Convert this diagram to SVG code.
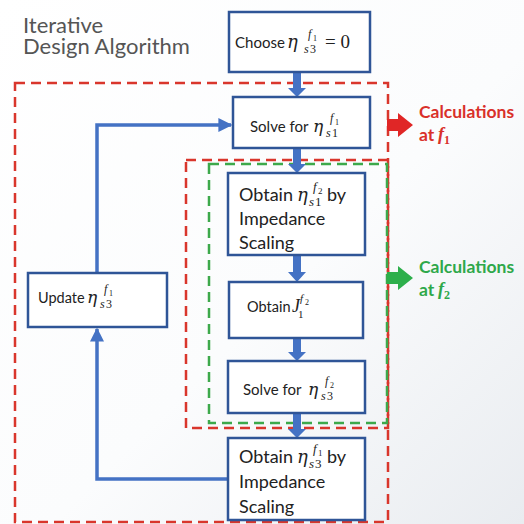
<svg xmlns="http://www.w3.org/2000/svg" width="524" height="524" viewBox="0 0 524 524">
<defs>
<linearGradient id="bg" x1="0" y1="0" x2="1" y2="1">
<stop offset="0" stop-color="#ffffff"/>
<stop offset="0.55" stop-color="#fbfcfd"/>
<stop offset="1" stop-color="#e9ecf0"/>
</linearGradient>
<marker id="ah" viewBox="0 0 10 10" refX="9" refY="5" markerWidth="14" markerHeight="14" markerUnits="userSpaceOnUse" orient="auto">
<path d="M0,0 L10,5 L0,10 z" fill="#4472C4"/>
</marker>
<style>
.box{fill:#fff;stroke:#2F5597;stroke-width:2.5}
.t{font-family:Lato,"Open Sans",sans-serif;fill:#222}
.e{font-family:"DejaVu Serif",serif;font-style:italic}
.m{font-family:"Liberation Serif","DejaVu Serif",serif;font-style:italic}
.n{font-family:"Liberation Serif","DejaVu Serif",serif;font-style:normal}
.red{fill:none;stroke:#D9362C;stroke-width:2.5;stroke-dasharray:10 6}
.grn{fill:none;stroke:#3DA94B;stroke-width:2.5;stroke-dasharray:10 6}
.blk{fill:#4472C4}
.con{fill:none;stroke:#4472C4;stroke-width:3.5}
.cr{font-family:Lato,"Open Sans",sans-serif;font-weight:bold;fill:#D9302A}
.cg{font-family:Lato,"Open Sans",sans-serif;font-weight:bold;fill:#2EA84A}
</style>
</defs>
<rect width="524" height="524" fill="url(#bg)"/>

<g id="title">
<text class="t" font-size="22" style="fill:#555"><tspan x="23" y="33">Iterative</tspan><tspan x="23" y="54">Design Algorithm</tspan></text>
</g>

<g id="regions">
<rect class="red" x="15" y="83" width="373" height="439"/>
<rect class="red" x="186" y="160" width="202" height="268"/>
<rect class="grn" x="209" y="164" width="178" height="259"/>
</g>

<g id="connectors">
<polygon class="blk" points="293,72 301,72 301,88 306,88 297,97 288,88 293,88"/>
<polygon class="blk" points="293,148 301,148 301,164 306,164 297,173 288,164 293,164"/>
<polygon class="blk" points="293,256 301,256 301,272 306,272 297,282 288,272 293,272"/>
<polygon class="blk" points="293,338 301,338 301,352 306,352 297,361 288,352 293,352"/>
<polygon class="blk" points="293,413 301,413 301,429 306,429 297,438 288,429 293,429"/>
<polyline class="con" points="228,479 97,479 97,329" marker-end="url(#ah)"/>
<polyline class="con" points="97,273 97,125 231,125" marker-end="url(#ah)"/>
</g>

<g id="choose">
<rect class="box" x="229" y="12" width="141" height="60"/>
<text class="t" font-size="15"><tspan x="235" y="48">Choose</tspan><tspan class="e" x="287" y="48" font-size="18">η</tspan><tspan class="m" x="308" y="38" font-size="12">f</tspan><tspan class="n" x="313" y="41" font-size="8">1</tspan><tspan class="m" x="304" y="53" font-size="12">s</tspan><tspan class="n" x="310" y="53" font-size="12">3</tspan><tspan class="n" x="325" y="48" font-size="19">= 0</tspan></text>
</g>

<g id="solve-f1">
<rect class="box" x="233" y="97" width="137" height="51"/>
<text class="t" font-size="15"><tspan x="250" y="132">Solve for</tspan><tspan class="e" x="313" y="132" font-size="17">η</tspan><tspan class="m" x="330" y="122" font-size="12">f</tspan><tspan class="n" x="335" y="125" font-size="8">1</tspan><tspan class="m" x="326" y="137" font-size="12">s</tspan><tspan class="n" x="332" y="137" font-size="12">1</tspan></text>
</g>

<g id="calc-f1">
<polygon points="387,119 398,119 398,113 413,125 398,137 398,131 387,131" fill="#E02626"/>
<text class="cr" font-size="17.5"><tspan x="419" y="118">Calculations</tspan><tspan x="419" y="141">at</tspan><tspan class="m" x="438" y="140" font-size="18">f</tspan><tspan class="n" x="444" y="144" font-size="12">1</tspan></text>
</g>

<g id="calc-f2">
<polygon points="387,272 398,272 398,266 413,278 398,290 398,284 387,284" fill="#2DAF4B"/>
<text class="cg" font-size="17.5"><tspan x="419" y="273">Calculations</tspan><tspan x="419" y="296">at</tspan><tspan class="m" x="438" y="295" font-size="18">f</tspan><tspan class="n" x="444" y="299" font-size="12">2</tspan></text>
</g>

<g id="obtain-f2">
<rect class="box" x="228" y="173" width="137" height="82"/>
<text class="t" font-size="18"><tspan x="239" y="201">Obtain</tspan><tspan class="e" x="297" y="201" font-size="18">η</tspan><tspan class="m" x="313" y="191" font-size="13">f</tspan><tspan class="n" x="318" y="194" font-size="9">2</tspan><tspan class="m" x="309" y="206" font-size="13">s</tspan><tspan class="n" x="315" y="206" font-size="13">1</tspan><tspan x="327" y="201">by</tspan><tspan x="239" y="225">Impedance</tspan><tspan x="239" y="249">Scaling</tspan></text>
</g>

<g id="obtain-j">
<rect class="box" x="229" y="282" width="134" height="56"/>
<text class="t" font-size="14.5"><tspan x="247" y="312">Obtain</tspan><tspan class="m" x="292" y="312" font-size="18">J</tspan><tspan class="m" x="300" y="302" font-size="11">f</tspan><tspan class="n" x="305" y="305" font-size="8">2</tspan><tspan class="n" x="298" y="318" font-size="11">1</tspan></text>
</g>

<g id="solve-f2">
<rect class="box" x="228" y="361" width="137" height="52"/>
<text class="t" font-size="15"><tspan x="243" y="395">Solve for</tspan><tspan class="e" x="308" y="395" font-size="17">η</tspan><tspan class="m" x="325" y="385" font-size="12">f</tspan><tspan class="n" x="330" y="388" font-size="8">2</tspan><tspan class="m" x="321" y="400" font-size="12">s</tspan><tspan class="n" x="327" y="400" font-size="12">3</tspan></text>
</g>

<g id="obtain-f1">
<rect class="box" x="228" y="438" width="137" height="82"/>
<text class="t" font-size="18"><tspan x="239" y="463">Obtain</tspan><tspan class="e" x="297" y="463" font-size="18">η</tspan><tspan class="m" x="313" y="453" font-size="13">f</tspan><tspan class="n" x="318" y="456" font-size="9">1</tspan><tspan class="m" x="309" y="468" font-size="13">s</tspan><tspan class="n" x="315" y="468" font-size="13">3</tspan><tspan x="327" y="463">by</tspan><tspan x="239" y="488">Impedance</tspan><tspan x="239" y="513">Scaling</tspan></text>
</g>

<g id="update">
<rect class="box" x="28" y="273" width="139" height="54"/>
<text class="t" font-size="14.5"><tspan x="38" y="303">Update</tspan><tspan class="e" x="87" y="303" font-size="17">η</tspan><tspan class="m" x="104" y="293" font-size="12">f</tspan><tspan class="n" x="109" y="296" font-size="8">1</tspan><tspan class="m" x="100" y="308" font-size="12">s</tspan><tspan class="n" x="106" y="308" font-size="12">3</tspan></text>
</g>
</svg>
